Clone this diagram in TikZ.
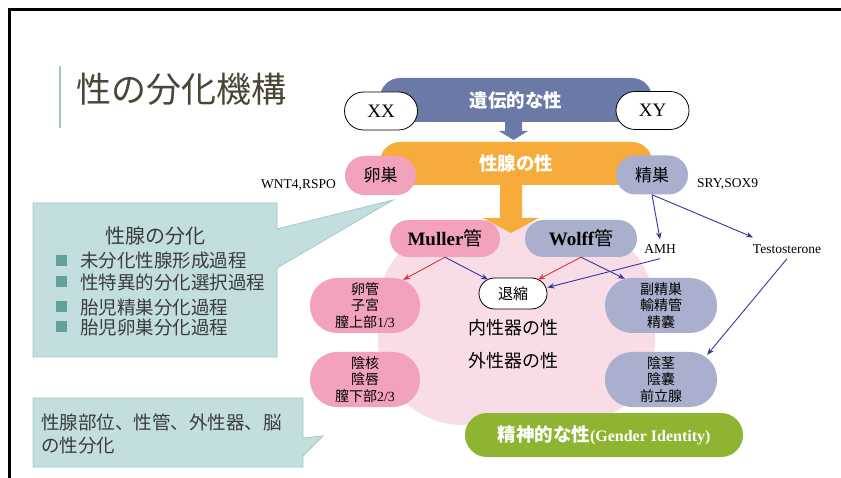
\documentclass[tikz,border=0pt]{standalone}
\usepackage{fontspec}
\setmainfont{Noto Sans CJK JP}
\newfontfamily\tnr{Liberation Serif}
\usetikzlibrary{arrows.meta}
\definecolor{bandblue}{HTML}{6B79A6}
\definecolor{bandorange}{HTML}{F7AB3B}
\definecolor{pinkpill}{HTML}{F2A2BA}
\definecolor{lavpill}{HTML}{A9AFCD}
\definecolor{bgpink}{HTML}{F8DCE6}
\definecolor{greenpill}{HTML}{8DB531}
\definecolor{callfill}{HTML}{C3DEDE}
\definecolor{callline}{HTML}{A0CACA}
\definecolor{bulletcol}{HTML}{62A09B}
\definecolor{titlecol}{HTML}{4A4536}
\definecolor{titleline}{HTML}{9CC9C9}
\definecolor{arrblue}{HTML}{3535A0}
\definecolor{arrred}{HTML}{D8343C}
\definecolor{calltext}{HTML}{3C3C3C}
\tikzset{
  pill/.style={rounded corners=#1, inner sep=0pt, align=center},
  conn/.style={-{Stealth[length=7pt,width=5.5pt]}, line width=0.9pt},
  bluearr/.style={conn, draw=arrblue},
  redarr/.style={conn, draw=arrred},
  lbl/.style={inner sep=1pt, font=\tnr\fontsize{13.5}{14}\selectfont},
  bullettext/.style={anchor=west, inner sep=0pt, text=calltext, font=\fontsize{18.5}{19}\selectfont},
  sqbullet/.style={fill=bulletcol, minimum size=11pt, inner sep=0pt},
  threeline/.style={font=\fontsize{14}{16.5}\selectfont}
}
\begin{document}
\begin{tikzpicture}[x=1pt,y=-1pt]
\useasboundingbox (0,0) rectangle (841,478);
\fill[white] (0,0) rectangle (841,478);
% slide border
\draw[line width=3pt] (9,478) -- (9,10) -- (841,10);
% title
\draw[titleline, line width=1.5pt] (60,66) -- (60,128);
\node[anchor=west, inner sep=0pt, text=titlecol, font=\fontsize{35}{35}\selectfont] (title) at (76,89) {性の分化機構};

% callout 1
\fill[callfill, draw=callline, line width=0.8pt] (33,203) -- (277,203) -- (277,229) -- (393,200) -- (277,268) -- (277,357) -- (33,357) -- cycle;
\node[inner sep=0pt, text=calltext, font=\fontsize{20}{20}\selectfont] (c1title) at (155,236) {性腺の分化};
\node[sqbullet] (s1) at (61,261) {};
\node[sqbullet] (s2) at (61,282) {};
\node[sqbullet] (s3) at (61,307) {};
\node[sqbullet] (s4) at (61,327) {};
\node[bullettext] (b1) at (80,261) {未分化性腺形成過程};
\node[bullettext] (b2) at (80,282) {性特異的分化選択過程};
\node[bullettext] (b3) at (80,307) {胎児精巣分化過程};
\node[bullettext] (b4) at (80,327) {胎児卵巣分化過程};

% callout 2
\fill[callfill, draw=callline, line width=0.8pt] (33,398) -- (303,398) -- (303,438) -- (323,436) -- (303,456) -- (303,467) -- (33,467) -- cycle;
\node[anchor=west, inner sep=0pt, align=left, text=calltext, font=\fontsize{18.5}{23}\selectfont] (c2text) at (41,433.5) {性腺部位、性管、外性器、脳\\の性分化};

% pink background
\fill[bgpink, rounded corners=85pt] (378,224) rectangle (655,425);

% bands
\fill[bandblue] (380,122) [rounded corners=20pt] -- (380,78) -- (652,78) [sharp corners] -- (652,122) -- cycle;
\node[inner sep=0pt, text=white, font=\bfseries\fontsize{18.5}{19}\selectfont] (gen) at (516,100) {遺伝的な性};
\fill[bandblue] (505,121) -- (522,121) -- (522,131) -- (528,131) -- (513.5,140) -- (499,131) -- (505,131) -- cycle;
\fill[bandorange] (380,185) [rounded corners=20pt] -- (380,142) -- (652,142) [sharp corners] -- (652,185) -- cycle;
\node[inner sep=0pt, text=white, font=\bfseries\fontsize{18.5}{19}\selectfont] (gon) at (516,163) {性腺の性};
\fill[bandorange] (500,184) -- (522,184) -- (522,218) -- (539,218) -- (511,233) -- (483,218) -- (500,218) -- cycle;

% chromosome pills
\node[pill=19pt, fill=white, draw=black, line width=0.8pt, minimum width=73pt, minimum height=38pt, font=\tnr\fontsize{19}{19}\selectfont] (xx) at (381,111) {XX};
\node[pill=19pt, fill=white, draw=black, line width=0.8pt, minimum width=73pt, minimum height=38pt, font=\tnr\fontsize{19}{19}\selectfont] (xy) at (652.5,110.5) {XY};

% gonads
\node[pill=19.5pt, fill=pinkpill, minimum width=71pt, minimum height=39pt, font=\fontsize{17}{17}\selectfont] (ovary) at (380.5,175.5) {卵巣};
\node[pill=19.5pt, fill=lavpill, minimum width=72pt, minimum height=39pt, font=\fontsize{17}{17}\selectfont] (testis) at (652,175) {精巣};
\node[lbl, anchor=east] (wnt) at (337,185) {WNT4,RSPO};
\node[lbl, anchor=west] (sry) at (696,184) {SRY,SOX9};

% ducts
\node[pill=18.5pt, fill=pinkpill, minimum width=110pt, minimum height=37pt, font=\fontsize{19}{19}\selectfont] (muller) at (445,238.5) {{\tnr\bfseries Muller}管};
\node[pill=18.5pt, fill=lavpill, minimum width=112pt, minimum height=37pt, font=\fontsize{19}{19}\selectfont] (wolff) at (581,238.5) {{\tnr\bfseries Wolff}管};
\node[lbl] (amh) at (660,249) {AMH};
\node[lbl] (testo) at (787,249) {Testosterone};

% regression
\node[pill=15.5pt, fill=white, draw=black, line width=0.8pt, minimum width=68pt, minimum height=31pt, font=\fontsize{15}{15}\selectfont] (regress) at (513,293.5) {退縮};

% organ pills
\node[pill=27pt, fill=pinkpill, minimum width=110pt, minimum height=55pt, threeline] (ovi) at (365,305.5) {卵管\\子宮\\膣上部{\tnr 1/3}};
\node[pill=27pt, fill=pinkpill, minimum width=110pt, minimum height=55pt, threeline] (clit) at (365,379.5) {陰核\\陰唇\\膣下部{\tnr 2/3}};
\node[pill=27pt, fill=lavpill, minimum width=112pt, minimum height=55pt, threeline] (epi) at (661,305.5) {副精巣\\輸精管\\精嚢};
\node[pill=27pt, fill=lavpill, minimum width=112pt, minimum height=55pt, threeline] (penis) at (661,379.5) {陰茎\\陰嚢\\前立腺};

% centre labels
\node[inner sep=0pt, font=\fontsize{18}{18}\selectfont] (inner) at (513,328) {内性器の性};
\node[inner sep=0pt, font=\fontsize{18}{18}\selectfont] (outer) at (513,361) {外性器の性};

% gender identity
\node[pill=22pt, fill=greenpill, minimum width=278pt, minimum height=44pt, text=white, font=\bfseries\fontsize{18.5}{19}\selectfont] (gender) at (604,435) {精神的な性{\tnr\fontsize{16}{16}\selectfont (Gender Identity)}};

% connectors
\draw[bluearr] (testis.south) -- ([yshift=4pt]amh.north);
\draw[bluearr] (testis.south) -- ([xshift=-34pt,yshift=6pt]testo.north);
\draw[redarr] (muller.south) -- ([xshift=-17pt,yshift=-2pt]ovi.north east);
\draw[bluearr] (muller.south) -- ([xshift=-25pt,yshift=-2pt]regress.north);
\draw[redarr] (wolff.south) -- ([xshift=25pt,yshift=-2pt]regress.north);
\draw[bluearr] (wolff.south) -- ([xshift=20pt,yshift=-1pt]epi.north west);
\draw[bluearr] ([yshift=-4pt]amh.south) -- ([yshift=6pt]regress.east);
\draw[bluearr] ([yshift=-4pt]testo.south) -- ([xshift=-10pt,yshift=-3pt]penis.north east);
\end{tikzpicture}
\end{document}
